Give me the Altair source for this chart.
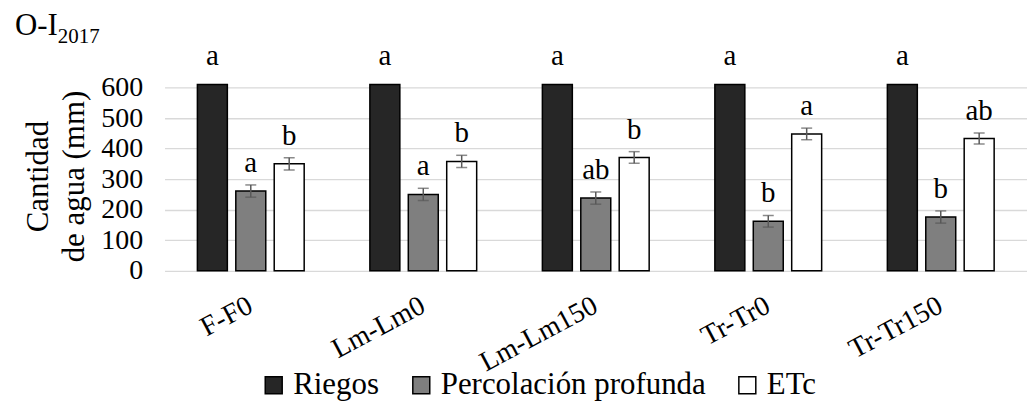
import altair as alt
import pandas as pd

groups = ["F-F0", "Lm-Lm0", "Lm-Lm150", "Tr-Tr0", "Tr-Tr150"]
series = ["Riegos", "Percolación profunda", "ETc"]
colors = ["#262626", "#7f7f7f", "#ffffff"]

riegos = [610, 610, 610, 610, 610]
perc = [261, 250, 238, 162, 176]
perc_err = [20, 20, 20, 19, 20]
etc = [350, 358, 371, 448, 433]
etc_err = [20, 20, 19, 19, 18]

riegos_lbl = ["a", "a", "a", "a", "a"]
perc_lbl = ["a", "a", "ab", "b", "b"]
etc_lbl = ["b", "b", "b", "a", "ab"]

title_main = "O-I"
title_sub = "2017"

rows = []
for i, g in enumerate(groups):
    rows.append(dict(group=g, series="Riegos", value=riegos[i], err=0, label=riegos_lbl[i]))
    rows.append(dict(group=g, series="Percolación profunda", value=perc[i], err=perc_err[i], label=perc_lbl[i]))
    rows.append(dict(group=g, series="ETc", value=etc[i], err=etc_err[i], label=etc_lbl[i]))
df = pd.DataFrame(rows)
df["lo"] = df["value"] - df["err"]
df["hi"] = df["value"] + df["err"]
err_df = df[df["series"] != "Riegos"]

FONT = "Liberation Serif"

x_scale = alt.Scale(domain=groups, paddingInner=0, paddingOuter=0)
x_enc = alt.X("group:N", sort=groups, title=None, scale=x_scale)
xo_enc = alt.XOffset("series:N", sort=series,
                     scale=alt.Scale(domain=series, paddingInner=0.22, paddingOuter=0.855))
y_scale = alt.Scale(domain=[0, 620], nice=False, zero=True)

bars = alt.Chart(df).mark_bar(stroke="black", strokeWidth=1.5).encode(
    x=x_enc,
    xOffset=xo_enc,
    y=alt.Y("value:Q", scale=y_scale, title=["Cantidad", "de agua (mm)"]),
    color=alt.Color("series:N", sort=series,
                    scale=alt.Scale(domain=series, range=colors),
                    legend=alt.Legend(title=None, orient="none", direction="horizontal",
                                      legendX=94, legendY=289,
                                      symbolType="square", symbolSize=289,
                                      symbolStrokeColor="black", symbolStrokeWidth=1.5,
                                      labelLimit=0, labelOffset=4, columnPadding=26)),
)

rules = alt.Chart(err_df).mark_rule(color="#595959", strokeWidth=1.5).encode(
    x=x_enc, xOffset=xo_enc,
    y=alt.Y("lo:Q", scale=y_scale), y2="hi:Q")
cap_hi = alt.Chart(err_df).mark_tick(color="#595959", thickness=1.5, size=11).encode(
    x=x_enc, xOffset=xo_enc, y=alt.Y("hi:Q", scale=y_scale))
cap_lo = alt.Chart(err_df).mark_tick(color="#595959", thickness=1.5, size=11).encode(
    x=x_enc, xOffset=xo_enc, y=alt.Y("lo:Q", scale=y_scale))

letters = alt.Chart(df).mark_text(dy=-19, baseline="alphabetic", fontSize=29,
                                  font=FONT, color="black").encode(
    x=x_enc, xOffset=xo_enc, y=alt.Y("value:Q", scale=y_scale), text="label:N")

tdf = pd.DataFrame({"t": [title_main], "s": [title_sub]})
t_main = alt.Chart(tdf).mark_text(align="left", baseline="alphabetic", fontSize=31,
                                  font=FONT, color="black").encode(
    x=alt.value(-150), y=alt.value(-47), text="t:N")
t_sub = alt.Chart(tdf).mark_text(align="left", baseline="alphabetic", fontSize=21,
                                 font=FONT, color="black").encode(
    x=alt.value(-107), y=alt.value(-38), text="s:N")

chart = alt.layer(bars, rules, cap_hi, cap_lo, letters, t_main, t_sub).properties(
    width=865, height=190,
    autosize=alt.AutoSizeParams(type="none"),
    padding={"left": 157, "top": 73, "right": 0, "bottom": 130},
).configure(font=FONT).configure_view(stroke=None).configure_axis(
    labelFont=FONT, titleFont=FONT, labelColor="black", titleColor="black",
    titleFontWeight="normal", labelFontWeight="normal", domain=False, ticks=False,
    labelOverlap=False, labelLimit=0,
).configure_axisY(
    tickCount=7, grid=True, gridColor="#d9d9d9", gridWidth=1.3, labelPadding=22,
    labelFontSize=28, titleFontSize=31, titlePadding=10, titleLineHeight=36,
).configure_axisX(
    grid=False, labelAngle=-28, labelAlign="right", labelBaseline="middle",
    labelPadding=33, labelFontSize=28,
).configure_legend(labelFont=FONT, labelFontSize=31, labelColor="black")

chart.save("out.html", embed_options={"renderer": "svg", "actions": False})
